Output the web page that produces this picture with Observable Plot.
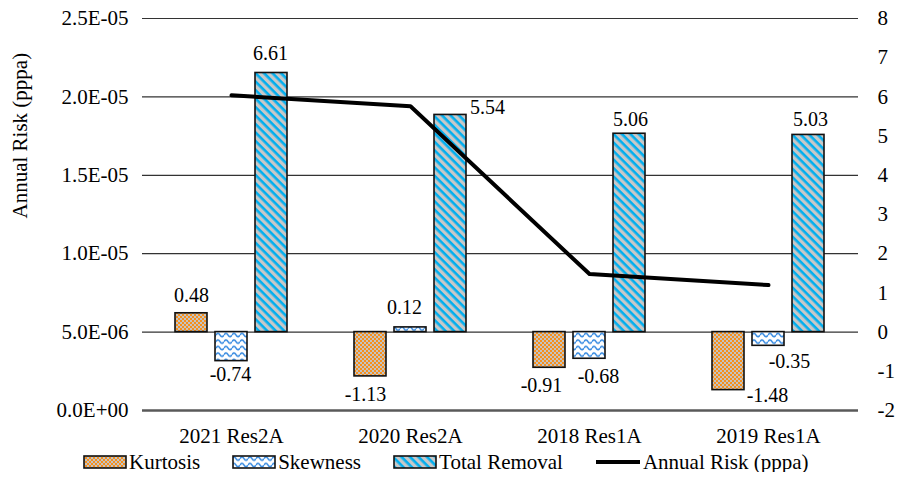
<!DOCTYPE html>
<html><head><meta charset="utf-8">
<script src="https://cdn.jsdelivr.net/npm/d3@7"></script>
<script src="https://cdn.jsdelivr.net/npm/@observablehq/plot@0.6"></script>
<style>
body{margin:0;background:#fff;font-family:"Liberation Serif","Times New Roman",serif;}
#chart svg{overflow:visible}
#legend{display:flex;align-items:center;padding-left:83px;height:20px;margin-top:0;font-size:21px;color:#000;}
.item{display:flex;align-items:center;margin-right:32px;white-space:nowrap}
.item svg{margin-right:2px;display:block}
</style></head><body>
<svg width="0" height="0" style="position:absolute">
<defs>
<pattern id="pKurt" patternUnits="userSpaceOnUse" width="4" height="4">
 <rect width="4" height="4" fill="#c4c4c4"/>
 <rect width="2" height="2" fill="#f5901e"/>
 <rect x="2" y="2" width="2" height="2" fill="#f5901e"/>
</pattern>
<pattern id="pSkew" patternUnits="userSpaceOnUse" width="8" height="6.5">
 <rect width="8" height="6.5" fill="#fff"/>
 <path d="M0 3.6 Q2 0.3 4 3.6 T8 3.6" fill="none" stroke="#2f86e0" stroke-width="1.5"/>
</pattern>
<pattern id="pTotal" patternUnits="userSpaceOnUse" width="6" height="6" patternTransform="rotate(45)">
 <rect width="6" height="6" fill="#c8c8c8"/>
 <rect width="6" height="2.6" fill="#00aeef"/>
</pattern>
</defs></svg>
<div id="chart"></div>
<div id="legend"></div>
<script>
const categories = ["2021 Res2A", "2020 Res2A", "2018 Res1A", "2019 Res1A"];
const kurtosis = [0.48, -1.13, -0.91, -1.48];
const skewness = [-0.74, 0.12, -0.68, -0.35];
const totalRemoval = [6.61, 5.54, 5.06, 5.03];
const annualRisk = [2.01e-5, 1.94e-5, 8.7e-6, 8.0e-6];
const leftTicks = [0, 5e-6, 1e-5, 1.5e-5, 2e-5, 2.5e-5];
const rightTicks = [-2, -1, 0, 1, 2, 3, 4, 5, 6, 7, 8];

// label placement offsets (px) relative to bar end: [dx, dy]
const labelNudge = {
  "Kurtosis": [[0, -18], [-5, 18], [-8, 18], [39, 5]],
  "Skewness": [[-1, 13], [-6, -20], [9, 18], [21, 16]],
  "Total Removal": [[-1, -19], [37, -7], [1, -14], [2, -15]]
};

const riskToY = d3.scaleLinear().domain([0, 2.5e-5]).range([-2, 8]);

const rows = categories.map((c, i) => ({category: c, kurtosis: kurtosis[i], skewness: skewness[i], total: totalRemoval[i], risk: annualRisk[i]}));

const series = [
  {name: "Kurtosis", key: "kurtosis", fill: "url(#pKurt)", dx: -40},
  {name: "Skewness", key: "skewness", fill: "url(#pSkew)", dx: 0},
  {name: "Total Removal", key: "total", fill: "url(#pTotal)", dx: 40}
];

function sci(x) {
  if (Math.abs(x) < 1e-15) return "0.0E+00";
  const e = Math.floor(Math.log10(Math.abs(x)) + 1e-9);
  const m = x / Math.pow(10, e);
  return m.toFixed(1) + "E" + (e < 0 ? "-" : "+") + String(Math.abs(e)).padStart(2, "0");
}

const gridLines = leftTicks.map(v => riskToY(v)).filter(t => t > -2);

const marks = [];
marks.push(Plot.ruleY(gridLines, {stroke: "#333", strokeWidth: 1.2}));
for (const s of series) {
  marks.push(Plot.barY(rows, {x: "category", y1: 0, y2: s.key, fill: s.fill, stroke: "#111", strokeWidth: 1.6, dx: s.dx}));
}
marks.push(Plot.ruleY([-2], {stroke: "#595959", strokeWidth: 2.5}));
marks.push(Plot.line(rows, {x: "category", y: d => riskToY(d.risk), stroke: "black", strokeWidth: 4}));
for (const s of series) {
  rows.forEach((r, i) => {
    const [ndx, ndy] = labelNudge[s.name][i];
    marks.push(Plot.text([r], {x: "category", y: s.key, text: d => String(d[s.key]), dx: s.dx + ndx, dy: ndy, fontSize: 20, fill: "black"}));
  });
}
marks.push(Plot.axisX({tickSize: 0, tickPadding: 18, label: null, fontSize: 21}));
marks.push(Plot.axisY({anchor: "left", ticks: leftTicks.map(v => riskToY(v)), tickFormat: v => sci(riskToY.invert(v)), tickSize: 0, tickPadding: 14, label: null, fontSize: 21}));
marks.push(Plot.axisY({anchor: "right", ticks: rightTicks, tickFormat: v => String(v), tickSize: 0, tickPadding: 19, label: null, fontSize: 21}));
marks.push(Plot.text(["Annual Risk (pppa)"], {frameAnchor: "left", text: d => d, rotate: -90, dx: -122, dy: 4, fontSize: 21, fill: "black"}));

const chart = Plot.plot({
  width: 907, height: 452,
  marginLeft: 142, marginRight: 49, marginTop: 18, marginBottom: 42,
  style: {fontFamily: "'Liberation Serif', 'Times New Roman', serif", fontSize: "21px", color: "black", background: "white"},
  x: {domain: categories, paddingInner: 0.821, paddingOuter: 0.4105},
  y: {domain: [-2, 8]},
  marks
});
document.getElementById("chart").appendChild(chart);

const legend = document.getElementById("legend");
const legendItems = [
  {name: "Kurtosis", fill: "url(#pKurt)"},
  {name: "Skewness", fill: "url(#pSkew)"},
  {name: "Total Removal", fill: "url(#pTotal)"},
  {name: "Annual Risk (pppa)", line: true}
];
for (const it of legendItems) {
  const div = document.createElement("div");
  div.className = "item";
  const sw = it.line
    ? `<svg width="46" height="14"><line x1="1" x2="45" y1="7" y2="7" stroke="black" stroke-width="4"/></svg>`
    : `<svg width="44" height="14"><rect x="1" y="1" width="42" height="12" fill="${it.fill}" stroke="#111" stroke-width="1.6"/></svg>`;
  div.innerHTML = sw + `<span>${it.name}</span>`;
  legend.appendChild(div);
}
</script>
</body></html>
